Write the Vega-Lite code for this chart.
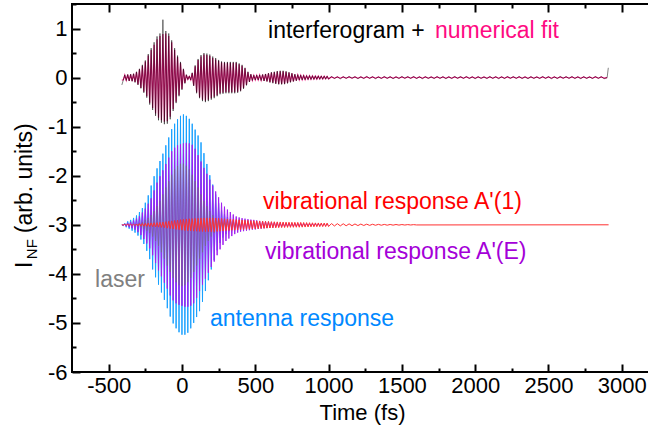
{
"$schema":"https://vega.github.io/schema/vega-lite/v6.json",
"width":580,"height":368,
"autosize":{"type":"none"},
"padding":{"left":72,"top":4,"right":0,"bottom":63},
"background":"white",
"config":{"view":{"stroke":"black","strokeWidth":2},"font":"Liberation Sans"},
"resolve":{"axis":{"x":"independent","y":"independent"}},
"datasets":{
"low":[
{"t":-410,"a":-3,"e":-3,"r":-3},
{"t":-400,"a":-3.02,"e":-3.01,"r":-3.005},
{"t":-390,"a":-2.97,"e":-2.98,"r":-2.993},
{"t":-380,"a":-3.05,"e":-3.03,"r":-3.008},
{"t":-370,"a":-2.93,"e":-2.96,"r":-2.99},
{"t":-360,"a":-3.08,"e":-3.05,"r":-3.01},
{"t":-350,"a":-2.9,"e":-2.94,"r":-2.988},
{"t":-340,"a":-3.12,"e":-3.07,"r":-3.013},
{"t":-330,"a":-2.86,"e":-2.91,"r":-2.985},
{"t":-320,"a":-3.16,"e":-3.1,"r":-3.016},
{"t":-310,"a":-2.81,"e":-2.87,"l":-2.99,"r":-2.982},
{"t":-300,"a":-3.22,"e":-3.15,"l":-3.03,"r":-3.02},
{"t":-290,"a":-2.74,"e":-2.82,"l":-2.96,"r":-2.978},
{"t":-280,"a":-3.3,"e":-3.21,"l":-3.05,"r":-3.024},
{"t":-270,"a":-2.66,"e":-2.75,"l":-2.94,"r":-2.974},
{"t":-260,"a":-3.39,"e":-3.29,"l":-3.08,"r":-3.028},
{"t":-250,"a":-2.55,"e":-2.67,"l":-2.9,"r":-2.97},
{"t":-240,"a":-3.53,"e":-3.38,"l":-3.12,"r":-3.032},
{"t":-230,"a":-2.4,"e":-2.57,"l":-2.86,"r":-2.966},
{"t":-220,"a":-3.7,"e":-3.48,"l":-3.17,"r":-3.036},
{"t":-210,"a":-2.2,"e":-2.46,"l":-2.8,"r":-2.962},
{"t":-200,"a":-3.91,"e":-3.62,"l":-3.24,"r":-3.04},
{"t":-190,"a":-2.01,"e":-2.3,"l":-2.72,"r":-2.958},
{"t":-180,"a":-4.07,"e":-3.78,"l":-3.33,"r":-3.044},
{"t":-170,"a":-1.85,"e":-2.14,"l":-2.62,"r":-2.954},
{"t":-160,"a":-4.22,"e":-3.93,"l":-3.43,"r":-3.048},
{"t":-150,"a":-1.7,"e":-2.01,"l":-2.51,"r":-2.95},
{"t":-140,"a":-4.38,"e":-4.05,"l":-3.56,"r":-3.053},
{"t":-130,"a":-1.55,"e":-1.89,"l":-2.38,"r":-2.944},
{"t":-120,"a":-4.53,"e":-4.18,"l":-3.69,"r":-3.06},
{"t":-110,"a":-1.38,"e":-1.76,"l":-2.24,"r":-2.936},
{"t":-100,"a":-4.7,"e":-4.3,"l":-3.83,"r":-3.068},
{"t":-90,"a":-1.22,"e":-1.63,"l":-2.11,"r":-2.928},
{"t":-80,"a":-4.87,"e":-4.44,"l":-3.96,"r":-3.076},
{"t":-70,"a":-1.05,"e":-1.5,"l":-1.98,"r":-2.92},
{"t":-60,"a":-5.01,"e":-4.54,"l":-4.08,"r":-3.084},
{"t":-50,"a":-0.94,"e":-1.43,"l":-1.87,"r":-2.912},
{"t":-40,"a":-5.11,"e":-4.6,"l":-4.17,"r":-3.092},
{"t":-30,"a":-0.85,"e":-1.38,"l":-1.8,"r":-2.904},
{"t":-20,"a":-5.19,"e":-4.63,"l":-4.23,"r":-3.1},
{"t":-10,"a":-0.78,"e":-1.36,"l":-1.755,"r":-2.895},
{"t":0,"a":-5.24,"e":-4.65,"l":-4.25,"r":-3.11},
{"t":10,"a":-0.75,"e":-1.34,"l":-1.755,"r":-2.887},
{"t":20,"a":-5.24,"e":-4.67,"l":-4.23,"r":-3.116},
{"t":30,"a":-0.78,"e":-1.33,"l":-1.8,"r":-2.881},
{"t":40,"a":-5.2,"e":-4.67,"l":-4.17,"r":-3.121},
{"t":50,"a":-0.84,"e":-1.34,"l":-1.87,"r":-2.877},
{"t":60,"a":-5.11,"e":-4.65,"l":-4.08,"r":-3.125},
{"t":70,"a":-0.94,"e":-1.37,"l":-1.98,"r":-2.873},
{"t":80,"a":-5,"e":-4.6,"l":-3.96,"r":-3.129},
{"t":90,"a":-1.06,"e":-1.45,"l":-2.11,"r":-2.87},
{"t":100,"a":-4.88,"e":-4.49,"l":-3.83,"r":-3.131},
{"t":110,"a":-1.18,"e":-1.58,"l":-2.24,"r":-2.867},
{"t":120,"a":-4.76,"e":-4.35,"l":-3.69,"r":-3.135},
{"t":130,"a":-1.32,"e":-1.71,"l":-2.38,"r":-2.863},
{"t":140,"a":-4.57,"e":-4.22,"l":-3.56,"r":-3.138},
{"t":150,"a":-1.54,"e":-1.84,"l":-2.51,"r":-2.861},
{"t":160,"a":-4.35,"e":-4.1,"l":-3.43,"r":-3.14},
{"t":170,"a":-1.76,"e":-1.96,"l":-2.62,"r":-2.86},
{"t":180,"a":-4.13,"e":-3.98,"l":-3.33,"r":-3.14},
{"t":190,"a":-1.99,"e":-2.08,"l":-2.72,"r":-2.86},
{"t":200,"a":-3.91,"e":-3.86,"l":-3.24,"r":-3.14},
{"t":210,"a":-2.18,"e":-2.2,"l":-2.8,"r":-2.861},
{"t":220,"a":-3.72,"e":-3.75,"l":-3.17,"r":-3.138},
{"t":230,"a":-2.38,"e":-2.32,"l":-2.86,"r":-2.863},
{"t":240,"a":-3.52,"e":-3.62,"l":-3.12,"r":-3.135},
{"t":250,"a":-2.56,"e":-2.44,"l":-2.9,"r":-2.867},
{"t":260,"a":-3.37,"e":-3.5,"l":-3.08,"r":-3.131},
{"t":270,"a":-2.7,"e":-2.55,"l":-2.94,"r":-2.871},
{"t":280,"a":-3.26,"e":-3.41,"l":-3.05,"r":-3.127},
{"t":290,"a":-2.78,"e":-2.63,"l":-2.96,"r":-2.876},
{"t":300,"a":-3.19,"e":-3.33,"l":-3.03,"r":-3.12},
{"t":310,"a":-2.84,"e":-2.69,"l":-2.99,"r":-2.882},
{"t":320,"a":-3.13,"e":-3.28,"r":-3.116},
{"t":330,"a":-2.88,"e":-2.74,"r":-2.886},
{"t":340,"a":-3.1,"e":-3.23,"r":-3.112},
{"t":350,"a":-2.91,"e":-2.79,"r":-2.89},
{"t":360,"a":-3.08,"e":-3.19,"r":-3.108},
{"t":370,"a":-2.93,"e":-2.83,"r":-2.894},
{"t":380,"a":-3.06,"e":-3.16,"r":-3.104},
{"t":390,"a":-2.95,"e":-2.85,"r":-2.898},
{"t":400,"a":-3.05,"e":-3.14,"r":-3.1},
{"t":410,"e":-2.865,"r":-2.902},
{"t":420,"e":-3.13,"r":-3.096},
{"t":430,"e":-2.875,"r":-2.906},
{"t":440,"e":-3.12,"r":-3.092},
{"t":450,"e":-2.885,"r":-2.91},
{"t":460,"e":-3.11,"r":-3.088},
{"t":470,"e":-2.895,"r":-2.914},
{"t":480,"e":-3.1,"r":-3.084},
{"t":490,"e":-2.9,"r":-2.918},
{"t":500,"e":-3.095,"r":-3.08},
{"t":510,"e":-2.91,"r":-2.921},
{"t":520,"e":-3.085,"r":-3.077},
{"t":530,"e":-2.92,"r":-2.924},
{"t":540,"e":-3.078,"r":-3.074},
{"t":550,"e":-2.925,"r":-2.927},
{"t":560,"e":-3.072,"r":-3.071},
{"t":570,"e":-2.93,"r":-2.93},
{"t":580,"e":-3.067,"r":-3.068},
{"t":590,"e":-2.936,"r":-2.933},
{"t":600,"e":-3.06,"r":-3.065},
{"t":610,"e":-2.942,"r":-2.936},
{"t":620,"e":-3.055,"r":-3.063},
{"t":630,"e":-2.948,"r":-2.938},
{"t":640,"e":-3.05,"r":-3.061},
{"t":650,"e":-2.953,"r":-2.94},
{"t":660,"e":-3.044,"r":-3.059},
{"t":670,"e":-2.96,"r":-2.942},
{"t":680,"e":-3.04,"r":-3.057},
{"t":690,"e":-2.961,"r":-2.944},
{"t":700,"e":-3.038,"r":-3.055},
{"t":710,"e":-2.963,"r":-2.946},
{"t":720,"e":-3.036,"r":-3.053},
{"t":730,"e":-2.965,"r":-2.947},
{"t":740,"e":-3.034,"r":-3.052},
{"t":750,"e":-2.967,"r":-2.948},
{"t":760,"e":-3.032,"r":-3.051},
{"t":770,"e":-2.969,"r":-2.949},
{"t":780,"e":-3.03,"r":-3.05},
{"t":790,"e":-2.97,"r":-2.95},
{"t":800,"e":-3.03,"r":-3.05},
{"t":810,"e":-2.971,"r":-2.951},
{"t":820,"e":-3.028,"r":-3.048},
{"t":830,"e":-2.973,"r":-2.953},
{"t":840,"e":-3.026,"r":-3.046},
{"t":850,"e":-2.975,"r":-2.955},
{"t":860,"e":-3.024,"r":-3.044},
{"t":870,"e":-2.977,"r":-2.957},
{"t":880,"e":-3.022,"r":-3.042},
{"t":890,"e":-2.979,"r":-2.959},
{"t":900,"e":-3.02,"r":-3.04},
{"t":910,"e":-2.981,"r":-2.961},
{"t":920,"e":-3.018,"r":-3.039},
{"t":930,"e":-2.983,"r":-2.962},
{"t":940,"e":-3.016,"r":-3.038},
{"t":950,"e":-2.985,"r":-2.963},
{"t":960,"e":-3.014,"r":-3.037},
{"t":970,"e":-2.987,"r":-2.964},
{"t":980,"e":-3.012,"r":-3.036},
{"t":990,"e":-2.989,"r":-2.965},
{"t":1000,"e":-3.01,"r":-3.035},
{"t":1020,"r":-2.975},
{"t":1040,"r":-3.024},
{"t":1060,"r":-2.977},
{"t":1080,"r":-3.022},
{"t":1100,"r":-2.979},
{"t":1120,"r":-3.02},
{"t":1140,"r":-2.981},
{"t":1160,"r":-3.018},
{"t":1180,"r":-2.983},
{"t":1200,"r":-3.016},
{"t":1220,"r":-2.985},
{"t":1240,"r":-3.014},
{"t":1260,"r":-2.987},
{"t":1280,"r":-3.012},
{"t":1300,"r":-2.989},
{"t":1320,"r":-3.01},
{"t":1340,"r":-2.991},
{"t":1360,"r":-3.009},
{"t":1380,"r":-2.992},
{"t":1400,"r":-3.008},
{"t":1420,"r":-2.993},
{"t":1440,"r":-3.007},
{"t":1460,"r":-2.994},
{"t":1480,"r":-3.006},
{"t":1500,"r":-2.995},
{"t":1520,"r":-3.005},
{"t":1540,"r":-2.996},
{"t":1560,"r":-3.004},
{"t":1580,"r":-2.997},
{"t":1600,"r":-3.003},
{"t":2910,"r":-3.0}
],
"top":[
{"t":-410,"y":-0.15,"f":-0.05},
{"t":-400,"y":-0.05,"f":-0.045},
{"t":-390,"y":0.055,"f":0.05},
{"t":-380,"y":-0.06,"f":-0.055},
{"t":-370,"y":0.065,"f":0.06},
{"t":-360,"y":-0.07,"f":-0.065},
{"t":-350,"y":0.07,"f":0.065},
{"t":-340,"y":-0.075,"f":-0.07},
{"t":-330,"y":0.08,"f":0.075},
{"t":-320,"y":-0.1,"f":-0.09},
{"t":-310,"y":0.12,"f":0.11},
{"t":-300,"y":-0.15,"f":-0.14},
{"t":-290,"y":0.18,"f":0.17},
{"t":-280,"y":-0.22,"f":-0.21},
{"t":-270,"y":0.26,"f":0.24},
{"t":-260,"y":-0.31,"f":-0.29},
{"t":-250,"y":0.35,"f":0.33},
{"t":-240,"y":-0.41,"f":-0.38},
{"t":-230,"y":0.48,"f":0.45},
{"t":-220,"y":-0.55,"f":-0.51},
{"t":-210,"y":0.6,"f":0.56},
{"t":-200,"y":-0.66,"f":-0.62},
{"t":-190,"y":0.72,"f":0.67},
{"t":-180,"y":-0.78,"f":-0.73},
{"t":-170,"y":0.84,"f":0.78},
{"t":-160,"y":-0.87,"f":-0.82},
{"t":-150,"y":0.9,"f":0.85},
{"t":-140,"y":-0.92,"f":-0.87},
{"t":-130,"y":1.18,"f":0.89},
{"t":-120,"y":-0.95,"f":-0.9},
{"t":-110,"y":0.95,"f":0.9},
{"t":-100,"y":-0.94,"f":-0.89},
{"t":-90,"y":0.9,"f":0.85},
{"t":-80,"y":-0.85,"f":-0.8},
{"t":-70,"y":0.76,"f":0.72},
{"t":-60,"y":-0.68,"f":-0.64},
{"t":-50,"y":0.6,"f":0.56},
{"t":-40,"y":-0.52,"f":-0.49},
{"t":-30,"y":0.45,"f":0.42},
{"t":-20,"y":-0.38,"f":-0.36},
{"t":-10,"y":0.32,"f":0.3},
{"t":0,"y":-0.25,"f":-0.23},
{"t":10,"y":0.18,"f":0.17},
{"t":20,"y":-0.12,"f":-0.11},
{"t":30,"y":0.06,"f":0.055},
{"t":40,"y":-0.04,"f":-0.035},
{"t":50,"y":0.03,"f":0.025},
{"t":60,"y":-0.05,"f":-0.045},
{"t":70,"y":0.1,"f":0.09},
{"t":80,"y":-0.17,"f":-0.16},
{"t":90,"y":0.25,"f":0.23},
{"t":100,"y":-0.32,"f":-0.3},
{"t":110,"y":0.38,"f":0.36},
{"t":120,"y":-0.42,"f":-0.4},
{"t":130,"y":0.46,"f":0.43},
{"t":140,"y":-0.48,"f":-0.45},
{"t":150,"y":0.5,"f":0.47},
{"t":160,"y":-0.5,"f":-0.47},
{"t":170,"y":0.49,"f":0.46},
{"t":180,"y":-0.48,"f":-0.45},
{"t":190,"y":0.47,"f":0.44},
{"t":200,"y":-0.45,"f":-0.42},
{"t":210,"y":0.43,"f":0.4},
{"t":220,"y":-0.42,"f":-0.39},
{"t":230,"y":0.4,"f":0.37},
{"t":240,"y":-0.38,"f":-0.36},
{"t":250,"y":0.36,"f":0.34},
{"t":260,"y":-0.34,"f":-0.32},
{"t":270,"y":0.33,"f":0.31},
{"t":280,"y":-0.33,"f":-0.31},
{"t":290,"y":0.32,"f":0.3},
{"t":300,"y":-0.32,"f":-0.3},
{"t":310,"y":0.32,"f":0.3},
{"t":320,"y":-0.32,"f":-0.3},
{"t":330,"y":0.32,"f":0.3},
{"t":340,"y":-0.32,"f":-0.3},
{"t":350,"y":0.32,"f":0.3},
{"t":360,"y":-0.32,"f":-0.3},
{"t":370,"y":0.32,"f":0.3},
{"t":380,"y":-0.31,"f":-0.29},
{"t":390,"y":0.29,"f":0.27},
{"t":400,"y":-0.28,"f":-0.26},
{"t":410,"y":0.26,"f":0.24},
{"t":420,"y":-0.23,"f":-0.21},
{"t":430,"y":0.2,"f":0.19},
{"t":440,"y":-0.16,"f":-0.15},
{"t":450,"y":0.12,"f":0.11},
{"t":460,"y":-0.09,"f":-0.085},
{"t":470,"y":0.07,"f":0.065},
{"t":480,"y":-0.06,"f":-0.055},
{"t":490,"y":0.05,"f":0.045},
{"t":500,"y":-0.05,"f":-0.045},
{"t":510,"y":0.05,"f":0.045},
{"t":520,"y":-0.05,"f":-0.045},
{"t":530,"y":0.055,"f":0.05},
{"t":540,"y":-0.06,"f":-0.055},
{"t":550,"y":0.065,"f":0.06},
{"t":560,"y":-0.07,"f":-0.065},
{"t":570,"y":0.075,"f":0.07},
{"t":580,"y":-0.08,"f":-0.075},
{"t":590,"y":0.09,"f":0.085},
{"t":600,"y":-0.1,"f":-0.095},
{"t":610,"y":0.11,"f":0.1},
{"t":620,"y":-0.115,"f":-0.105},
{"t":630,"y":0.12,"f":0.11},
{"t":640,"y":-0.13,"f":-0.12},
{"t":650,"y":0.135,"f":0.125},
{"t":660,"y":-0.14,"f":-0.13},
{"t":670,"y":0.14,"f":0.13},
{"t":680,"y":-0.14,"f":-0.13},
{"t":690,"y":0.14,"f":0.13},
{"t":700,"y":-0.135,"f":-0.125},
{"t":710,"y":0.13,"f":0.12},
{"t":720,"y":-0.12,"f":-0.11},
{"t":730,"y":0.11,"f":0.1},
{"t":740,"y":-0.1,"f":-0.09},
{"t":750,"y":0.09,"f":0.085},
{"t":760,"y":-0.08,"f":-0.075},
{"t":770,"y":0.07,"f":0.065},
{"t":780,"y":-0.065,"f":-0.06},
{"t":790,"y":0.06,"f":0.055},
{"t":800,"y":-0.05,"f":-0.045},
{"t":810,"y":0.05,"f":0.045},
{"t":820,"y":-0.048,"f":-0.043},
{"t":830,"y":0.046,"f":0.041},
{"t":840,"y":-0.044,"f":-0.04},
{"t":850,"y":0.04,"f":0.036},
{"t":860,"y":-0.04,"f":-0.035},
{"t":870,"y":0.04,"f":0.035},
{"t":880,"y":-0.038,"f":-0.033},
{"t":890,"y":0.037,"f":0.032},
{"t":900,"y":-0.036,"f":-0.031},
{"t":910,"y":0.035,"f":0.03},
{"t":920,"y":-0.034,"f":-0.03},
{"t":930,"y":0.034,"f":0.029},
{"t":940,"y":-0.033,"f":-0.028},
{"t":950,"y":0.032,"f":0.028},
{"t":960,"y":-0.032,"f":-0.027},
{"t":970,"y":0.031,"f":0.027},
{"t":980,"y":-0.031,"f":-0.026},
{"t":990,"y":0.03,"f":0.026},
{"t":1000,"y":-0.03,"f":-0.025},
{"t":1020,"y":0.022,"f":0.012},
{"t":1040,"y":-0.018,"f":-0.012},
{"t":1060,"y":0.015,"f":0.012},
{"t":1080,"y":-0.025,"f":-0.012},
{"t":1100,"y":0.018,"f":0.012},
{"t":1120,"y":-0.015,"f":-0.012},
{"t":1140,"y":0.022,"f":0.012},
{"t":1160,"y":-0.012,"f":-0.012},
{"t":1180,"y":0.018,"f":0.012},
{"t":1200,"y":-0.022,"f":-0.012},
{"t":1220,"y":0.015,"f":0.012},
{"t":1240,"y":-0.018,"f":-0.012},
{"t":1260,"y":0.025,"f":0.012},
{"t":1280,"y":-0.015,"f":-0.012},
{"t":1300,"y":0.018,"f":0.012},
{"t":1320,"y":-0.022,"f":-0.012},
{"t":1340,"y":0.012,"f":0.012},
{"t":1360,"y":-0.018,"f":-0.012},
{"t":1380,"y":0.022,"f":0.012},
{"t":1400,"y":-0.015,"f":-0.012},
{"t":1420,"y":0.018,"f":0.012},
{"t":1440,"y":-0.022,"f":-0.012},
{"t":1460,"y":0.015,"f":0.012},
{"t":1480,"y":-0.018,"f":-0.012},
{"t":1500,"y":0.022,"f":0.012},
{"t":1520,"y":-0.012,"f":-0.012},
{"t":1540,"y":0.018,"f":0.012},
{"t":1560,"y":-0.015,"f":-0.012},
{"t":1580,"y":0.022,"f":0.012},
{"t":1600,"y":-0.018,"f":-0.012},
{"t":1620,"y":0.015,"f":0.012},
{"t":1640,"y":-0.022,"f":-0.012},
{"t":1660,"y":0.018,"f":0.012},
{"t":1680,"y":-0.015,"f":-0.012},
{"t":1700,"y":0.012,"f":0.012},
{"t":1720,"y":-0.018,"f":-0.012},
{"t":1740,"y":0.022,"f":0.012},
{"t":1760,"y":-0.015,"f":-0.012},
{"t":1780,"y":0.018,"f":0.012},
{"t":1800,"y":-0.022,"f":-0.012},
{"t":1820,"y":0.015,"f":0.012},
{"t":1840,"y":-0.018,"f":-0.012},
{"t":1860,"y":0.022,"f":0.012},
{"t":1880,"y":-0.012,"f":-0.012},
{"t":1900,"y":0.018,"f":0.012},
{"t":1920,"y":-0.015,"f":-0.012},
{"t":1940,"y":0.022,"f":0.012},
{"t":1960,"y":-0.018,"f":-0.012},
{"t":1980,"y":0.015,"f":0.012},
{"t":2000,"y":-0.022,"f":-0.012},
{"t":2020,"y":0.018,"f":0.012},
{"t":2040,"y":-0.015,"f":-0.012},
{"t":2060,"y":0.012,"f":0.012},
{"t":2080,"y":-0.018,"f":-0.012},
{"t":2100,"y":0.022,"f":0.012},
{"t":2120,"y":-0.015,"f":-0.012},
{"t":2140,"y":0.018,"f":0.012},
{"t":2160,"y":-0.022,"f":-0.012},
{"t":2180,"y":0.015,"f":0.012},
{"t":2200,"y":-0.018,"f":-0.012},
{"t":2220,"y":0.022,"f":0.012},
{"t":2240,"y":-0.012,"f":-0.012},
{"t":2260,"y":0.018,"f":0.012},
{"t":2280,"y":-0.015,"f":-0.012},
{"t":2300,"y":0.022,"f":0.012},
{"t":2320,"y":-0.018,"f":-0.012},
{"t":2340,"y":0.015,"f":0.012},
{"t":2360,"y":-0.022,"f":-0.012},
{"t":2380,"y":0.018,"f":0.012},
{"t":2400,"y":-0.015,"f":-0.012},
{"t":2420,"y":0.012,"f":0.012},
{"t":2440,"y":-0.018,"f":-0.012},
{"t":2460,"y":0.022,"f":0.012},
{"t":2480,"y":-0.015,"f":-0.012},
{"t":2500,"y":0.018,"f":0.012},
{"t":2520,"y":-0.022,"f":-0.012},
{"t":2540,"y":0.015,"f":0.012},
{"t":2560,"y":-0.018,"f":-0.012},
{"t":2580,"y":0.022,"f":0.012},
{"t":2600,"y":-0.012,"f":-0.012},
{"t":2620,"y":0.018,"f":0.012},
{"t":2640,"y":-0.015,"f":-0.012},
{"t":2660,"y":0.022,"f":0.012},
{"t":2680,"y":-0.018,"f":-0.012},
{"t":2700,"y":0.015,"f":0.012},
{"t":2720,"y":-0.022,"f":-0.012},
{"t":2740,"y":0.018,"f":0.012},
{"t":2760,"y":-0.015,"f":-0.012},
{"t":2780,"y":0.012,"f":0.012},
{"t":2800,"y":-0.018,"f":-0.012},
{"t":2820,"y":0.022,"f":0.012},
{"t":2840,"y":-0.015,"f":-0.012},
{"t":2860,"y":0.018,"f":0.012},
{"t":2880,"y":-0.022,"f":-0.012},
{"t":2900,"y":0.0,"f":0.0},
{"t":2908,"y":0.2}
]
},
"layer":[
{"data":{"name":"low"},"transform":[{"filter":"isValid(datum.a)"}],
 "mark":{"type":"line","color":"#18a0ff","strokeWidth":1},
 "encoding":{
  "x":{"field":"t","type":"quantitative","scale":{"domain":[-750,3206],"nice":false,"zero":false},
   "axis":{"orient":"bottom","values":[-500,-250,0,250,500,750,1000,1250,1500,1750,2000,2250,2500,2750,3000],
    "labelExpr":"datum.value % 500 === 0 ? '' + datum.value : ''","labelFont":"Liberation Sans","labelFontSize":22,"labelColor":"black",
    "labelPadding":11,"labelFlush":false,"labelOverlap":false,"domain":false,"grid":false,"tickColor":"black","tickWidth":2,
    "tickSize":{"condition":{"test":"datum.value % 500 === 0","value":-8},"value":-4},
    "title":"Time (fs)","titleFont":"Liberation Sans","titleFontSize":22,"titleFontWeight":"normal","titleColor":"black","titlePadding":2}},
  "y":{"field":"a","type":"quantitative","scale":{"domain":[-6,1.5],"nice":false,"zero":false},
   "axis":{"orient":"left","values":[-6,-5.5,-5,-4.5,-4,-3.5,-3,-2.5,-2,-1.5,-1,-0.5,0,0.5,1,1.5],
    "labelExpr":"datum.value % 1 === 0 ? '' + datum.value : ''","labelFont":"Liberation Sans","labelFontSize":22,"labelColor":"black",
    "labelPadding":13,"labelFlush":false,"labelOverlap":false,"domain":false,"grid":false,"tickColor":"black","tickWidth":2,
    "tickSize":{"condition":{"test":"datum.value % 1 === 0","value":-8},"value":-4},"title":null}}}},
{"data":{"name":"low"},"transform":[{"filter":"isValid(datum.e)"}],
 "mark":{"type":"line","color":"#a020f0","strokeWidth":1},
 "encoding":{"x":{"field":"t","type":"quantitative","scale":{"domain":[-750,3206],"nice":false,"zero":false},"axis":null},
  "y":{"field":"e","type":"quantitative","scale":{"domain":[-6,1.5],"nice":false,"zero":false},"axis":null}}},
{"data":{"name":"low"},"transform":[{"filter":"isValid(datum.l)"}],
 "mark":{"type":"line","color":"#707070","strokeWidth":1,"opacity":0.5},
 "encoding":{"x":{"field":"t","type":"quantitative","scale":{"domain":[-750,3206],"nice":false,"zero":false},"axis":null},
  "y":{"field":"l","type":"quantitative","scale":{"domain":[-6,1.5],"nice":false,"zero":false},"axis":null}}},
{"data":{"name":"low"},"transform":[{"filter":"isValid(datum.r)"}],
 "mark":{"type":"line","color":"#ff3030","strokeWidth":1},
 "encoding":{"x":{"field":"t","type":"quantitative","scale":{"domain":[-750,3206],"nice":false,"zero":false},"axis":null},
  "y":{"field":"r","type":"quantitative","scale":{"domain":[-6,1.5],"nice":false,"zero":false},"axis":null}}},
{"data":{"name":"top"},"transform":[{"filter":"isValid(datum.f)"}],
 "mark":{"type":"line","color":"#ee1a80","strokeWidth":1.2},
 "encoding":{"x":{"field":"t","type":"quantitative","scale":{"domain":[-750,3206],"nice":false,"zero":false},"axis":null},
  "y":{"field":"f","type":"quantitative","scale":{"domain":[-6,1.5],"nice":false,"zero":false},"axis":null}}},
{"data":{"name":"top"},
 "mark":{"type":"line","color":"black","strokeWidth":0.7,"opacity":0.7},
 "encoding":{"x":{"field":"t","type":"quantitative","scale":{"domain":[-750,3206],"nice":false,"zero":false},
   "axis":{"orient":"top","values":[-500,-250,0,250,500,750,1000,1250,1500,1750,2000,2250,2500,2750,3000],"labels":false,"domain":false,"grid":false,
    "tickColor":"black","tickWidth":2,"tickSize":{"condition":{"test":"datum.value % 500 === 0","value":-8},"value":-4},"title":null}},
  "y":{"field":"y","type":"quantitative","scale":{"domain":[-6,1.5],"nice":false,"zero":false},"axis":null}}},
{"data":{"values":[{}]},"mark":{"type":"text","text":"interferogram +","align":"left","baseline":"alphabetic","font":"Liberation Sans","fontSize":23,"color":"black"},
 "encoding":{"x":{"datum":587,"type":"quantitative","scale":{"domain":[-750,3206],"nice":false,"zero":false},"axis":null},"y":{"datum":0.807,"type":"quantitative","scale":{"domain":[-6,1.5],"nice":false,"zero":false},"axis":null}}},
{"data":{"values":[{}]},"mark":{"type":"text","text":"numerical fit","align":"left","baseline":"alphabetic","font":"Liberation Sans","fontSize":23,"color":"#ff0a82"},
 "encoding":{"x":{"datum":1726,"type":"quantitative","scale":{"domain":[-750,3206],"nice":false,"zero":false},"axis":null},"y":{"datum":0.807,"type":"quantitative","scale":{"domain":[-6,1.5],"nice":false,"zero":false},"axis":null}}},
{"data":{"values":[{}]},"mark":{"type":"text","text":"vibrational response A'(1)","align":"left","baseline":"alphabetic","font":"Liberation Sans","fontSize":23,"color":"#ff0000"},
 "encoding":{"x":{"datum":553,"type":"quantitative","scale":{"domain":[-750,3206],"nice":false,"zero":false},"axis":null},"y":{"datum":-2.688,"type":"quantitative","scale":{"domain":[-6,1.5],"nice":false,"zero":false},"axis":null}}},
{"data":{"values":[{}]},"mark":{"type":"text","text":"vibrational response A'(E)","align":"left","baseline":"alphabetic","font":"Liberation Sans","fontSize":23,"color":"#a400d8"},
 "encoding":{"x":{"datum":567,"type":"quantitative","scale":{"domain":[-750,3206],"nice":false,"zero":false},"axis":null},"y":{"datum":-3.707,"type":"quantitative","scale":{"domain":[-6,1.5],"nice":false,"zero":false},"axis":null}}},
{"data":{"values":[{}]},"mark":{"type":"text","text":"laser","align":"left","baseline":"alphabetic","font":"Liberation Sans","fontSize":23,"color":"#808080"},
 "encoding":{"x":{"datum":-593,"type":"quantitative","scale":{"domain":[-750,3206],"nice":false,"zero":false},"axis":null},"y":{"datum":-4.267,"type":"quantitative","scale":{"domain":[-6,1.5],"nice":false,"zero":false},"axis":null}}},
{"data":{"values":[{}]},"mark":{"type":"text","text":"antenna response","align":"left","baseline":"alphabetic","font":"Liberation Sans","fontSize":23,"color":"#0088ff"},
 "encoding":{"x":{"datum":191,"type":"quantitative","scale":{"domain":[-750,3206],"nice":false,"zero":false},"axis":null},"y":{"datum":-5.06,"type":"quantitative","scale":{"domain":[-6,1.5],"nice":false,"zero":false},"axis":null}}},
{"data":{"values":[{}]},"mark":{"type":"text","text":"I","angle":270,"align":"left","baseline":"alphabetic","font":"Liberation Sans","fontSize":23,"color":"black"},
 "encoding":{"x":{"datum":-1023,"type":"quantitative","scale":{"domain":[-750,3206],"nice":false,"zero":false},"axis":null},"y":{"datum":-3.88,"type":"quantitative","scale":{"domain":[-6,1.5],"nice":false,"zero":false},"axis":null}}},
{"data":{"values":[{}]},"mark":{"type":"text","text":"NF","angle":270,"align":"left","baseline":"alphabetic","font":"Liberation Sans","fontSize":15,"color":"black"},
 "encoding":{"x":{"datum":-990,"type":"quantitative","scale":{"domain":[-750,3206],"nice":false,"zero":false},"axis":null},"y":{"datum":-3.7,"type":"quantitative","scale":{"domain":[-6,1.5],"nice":false,"zero":false},"axis":null}}},
{"data":{"values":[{}]},"mark":{"type":"text","text":"(arb. units)","angle":270,"align":"left","baseline":"alphabetic","font":"Liberation Sans","fontSize":23,"color":"black"},
 "encoding":{"x":{"datum":-1023,"type":"quantitative","scale":{"domain":[-750,3206],"nice":false,"zero":false},"axis":null},"y":{"datum":-3.17,"type":"quantitative","scale":{"domain":[-6,1.5],"nice":false,"zero":false},"axis":null}}}
]
}
